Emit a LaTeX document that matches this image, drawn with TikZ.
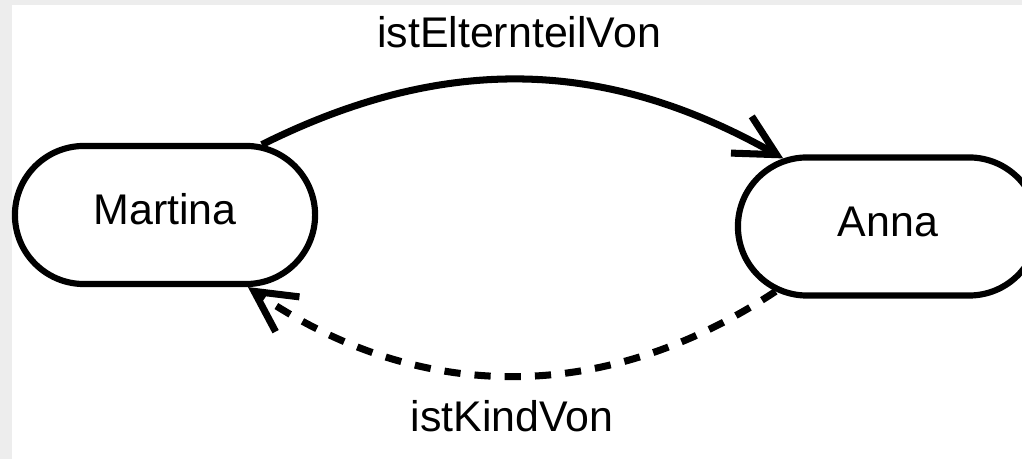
\documentclass[tikz,border=0pt]{standalone}
\usepackage{fontspec}
\setmainfont{Liberation Sans}
\usetikzlibrary{shapes.misc,arrows.meta}
\begin{document}
\begin{tikzpicture}[x=0.01cm,y=-0.01cm,
  labelfont/.style={font=\fontsize{12.2}{14}\selectfont},
  person/.style={rounded rectangle, draw, line width=1.75pt,
    minimum width=3cm, minimum height=1.38cm, inner sep=0pt,
    text height=0.3cm, text depth=0.1cm, labelfont},
  rel/.style={line width=2pt, -{Straight Barb[length=11.5pt,width=12pt,sharp]}},
  reldashed/.style={rel, dash pattern=on 4.6pt off 4pt},
  rellabel/.style={anchor=base, inner sep=0pt, labelfont}]
  \useasboundingbox (0,0) rectangle (1022,459);
  % canvas with a faint grey margin on the left and top
  \fill[black!7] (0,0) rectangle (1022,459);
  \fill[white] (12,5) rectangle (1022,459);
  \begin{scope}
    \clip (0,0) rectangle (1022,459);
    \node[person] (m) at (165,215) {Martina};
    \node[person] (a) at (888,226.5) {Anna};
    \draw[rel] (m.36) to[bend left=28] (a.147);
    \draw[reldashed] (a.210) to[bend left=34] (m.-41);
    \node[rellabel] (t1) at (519,48) {istElternteilVon};
    \node[rellabel] (t2) at (512,432) {istKindVon};
  \end{scope}
\end{tikzpicture}
\end{document}
